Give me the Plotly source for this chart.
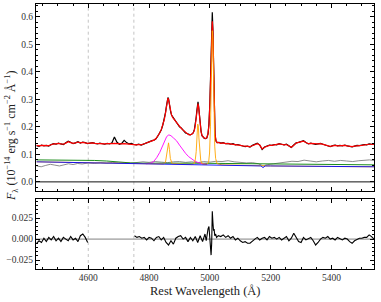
import plotly.graph_objects as go

# ---------------- observed spectrum & total model ----------------
wave_a = [4430, 4438, 4446, 4454, 4462, 4470, 4478, 4486, 4494, 4502, 4510,
          4518, 4526, 4534, 4542, 4550, 4558, 4566, 4574, 4582, 4590, 4598]
obs_a = [0.132, 0.129, 0.134, 0.131, 0.133, 0.130, 0.136, 0.139, 0.137, 0.141, 0.138,
         0.136, 0.142, 0.148, 0.144, 0.139, 0.142, 0.146, 0.141, 0.145, 0.143, 0.139]
mod_a = [0.133, 0.131, 0.133, 0.132, 0.133, 0.132, 0.135, 0.138, 0.138, 0.140, 0.138,
         0.137, 0.141, 0.146, 0.143, 0.140, 0.142, 0.145, 0.142, 0.144, 0.142, 0.140]

wave_b = [4606, 4614, 4622, 4630, 4638, 4646, 4654, 4662, 4670, 4678, 4686, 4694, 4702,
          4710, 4718, 4726, 4734, 4742, 4750, 4758, 4766, 4774, 4782, 4790, 4798]
obs_b = [0.141, 0.143, 0.140, 0.138, 0.141, 0.139, 0.137, 0.140, 0.138, 0.142, 0.163, 0.145, 0.137,
         0.140, 0.151, 0.143, 0.138, 0.140, 0.136, 0.135, 0.137, 0.134, 0.138, 0.142, 0.145]
mod_b = [0.141, 0.142, 0.140, 0.139, 0.140, 0.139, 0.138, 0.139, 0.138, 0.139, 0.140, 0.139, 0.137,
         0.138, 0.139, 0.138, 0.137, 0.138, 0.136, 0.135, 0.136, 0.135, 0.138, 0.141, 0.144]

wave_c = [4804, 4810, 4816, 4822, 4828, 4834, 4840, 4845, 4850, 4854, 4857, 4860, 4862, 4864,
          4866, 4868, 4871, 4874, 4878, 4882, 4886, 4890, 4895, 4900, 4905, 4910, 4915, 4920,
          4925, 4930, 4935, 4940, 4945, 4949, 4952, 4955, 4957, 4959, 4961, 4963, 4965, 4968,
          4971, 4974, 4978, 4982, 4986, 4990, 4994, 4997, 5000, 5002, 5004, 5006, 5008, 5010,
          5012, 5014, 5017, 5020, 5024, 5030]
obs_c = [0.147, 0.150, 0.152, 0.156, 0.165, 0.176, 0.189, 0.206, 0.228, 0.252, 0.275, 0.298, 0.307, 0.303,
         0.285, 0.270, 0.255, 0.243, 0.236, 0.228, 0.221, 0.215, 0.207, 0.200, 0.197, 0.190, 0.184, 0.178,
         0.176, 0.172, 0.171, 0.173, 0.178, 0.190, 0.208, 0.235, 0.258, 0.280, 0.291, 0.275, 0.245, 0.210,
         0.185, 0.168, 0.161, 0.158, 0.157, 0.160, 0.175, 0.212, 0.285, 0.370, 0.470, 0.570, 0.617, 0.555,
         0.405, 0.265, 0.172, 0.149, 0.143, 0.144]
mod_c = [0.146, 0.149, 0.152, 0.157, 0.165, 0.176, 0.190, 0.205, 0.226, 0.250, 0.276, 0.296, 0.305, 0.300,
         0.287, 0.270, 0.253, 0.243, 0.234, 0.228, 0.222, 0.214, 0.207, 0.201, 0.196, 0.190, 0.185, 0.179,
         0.175, 0.172, 0.171, 0.173, 0.178, 0.188, 0.205, 0.232, 0.255, 0.276, 0.285, 0.272, 0.245, 0.208,
         0.183, 0.169, 0.162, 0.159, 0.158, 0.160, 0.176, 0.207, 0.280, 0.372, 0.480, 0.565, 0.584, 0.545,
         0.395, 0.262, 0.175, 0.150, 0.143, 0.143]

wave_d = [5036, 5044, 5052, 5060, 5068, 5076, 5084, 5092,
          5100, 5108, 5116, 5124, 5132, 5140, 5148, 5156,
          5164, 5172, 5180, 5188, 5196, 5204, 5212, 5220,
          5228, 5236, 5244, 5252, 5260, 5268, 5276, 5284,
          5292, 5300, 5308, 5316, 5324, 5332, 5340, 5348,
          5356, 5364, 5372, 5380, 5388, 5396, 5404, 5412,
          5420, 5428, 5436, 5444, 5452, 5460, 5468, 5476,
          5484, 5492, 5500, 5508, 5516, 5524, 5532, 5540]
obs_d = [0.141, 0.143, 0.139, 0.140, 0.137, 0.139, 0.135, 0.136,
         0.133, 0.131, 0.128, 0.130, 0.127, 0.133, 0.136, 0.141,
         0.134, 0.118, 0.127, 0.131, 0.134, 0.133, 0.136, 0.135,
         0.139, 0.137, 0.135, 0.137, 0.131, 0.125, 0.134, 0.142,
         0.144, 0.147, 0.150, 0.143, 0.138, 0.141, 0.139, 0.136,
         0.138, 0.140, 0.137, 0.134, 0.131, 0.128, 0.132, 0.134,
         0.131, 0.133, 0.131, 0.134, 0.131, 0.128, 0.127, 0.130,
         0.133, 0.132, 0.134, 0.136, 0.135, 0.138, 0.137, 0.136]
mod_d = [0.140, 0.142, 0.139, 0.139, 0.138, 0.138, 0.135, 0.135,
         0.133, 0.131, 0.129, 0.129, 0.128, 0.132, 0.136, 0.139,
         0.134, 0.120, 0.126, 0.131, 0.133, 0.133, 0.135, 0.135,
         0.138, 0.137, 0.135, 0.136, 0.131, 0.126, 0.133, 0.141,
         0.144, 0.147, 0.148, 0.143, 0.139, 0.140, 0.139, 0.137,
         0.138, 0.139, 0.137, 0.134, 0.131, 0.129, 0.131, 0.133,
         0.131, 0.132, 0.131, 0.133, 0.131, 0.129, 0.128, 0.130,
         0.132, 0.132, 0.133, 0.135, 0.135, 0.137, 0.137, 0.136]

# ---------------- fit components ----------------
host_wave = [4430, 4445, 4460, 4475, 4490, 4505, 4520, 4535, 4550, 4565, 4580,
             4600, 4620, 4640, 4660, 4680, 4700, 4720, 4740, 4760, 4780, 4800, 4820, 4840,
             4860, 4880, 4900, 4920, 4940, 4960, 4980, 5000, 5020, 5040, 5060, 5080, 5100,
             5120, 5140, 5160, 5175, 5190,
             5210, 5230, 5250, 5270, 5290, 5310, 5330, 5350, 5370, 5390, 5410, 5430, 5450,
             5470, 5490, 5510, 5525, 5540]
host_flux = [0.058, 0.055, 0.060, 0.064, 0.061, 0.058, 0.062, 0.066, 0.063, 0.067, 0.065,
             0.069, 0.067, 0.070, 0.068, 0.071, 0.069, 0.070, 0.068, 0.071, 0.073, 0.071, 0.074, 0.072,
             0.070, 0.073, 0.074, 0.071, 0.073, 0.070, 0.074, 0.072, 0.075, 0.074, 0.077, 0.073, 0.071,
             0.069, 0.070, 0.066, 0.058, 0.063,
             0.066, 0.069, 0.072, 0.075, 0.074, 0.079, 0.076, 0.073, 0.076, 0.078, 0.075, 0.078, 0.076,
             0.074, 0.077, 0.079, 0.080, 0.078]

feii_wave = [4430, 4500, 4580, 4620, 4660, 4700, 4740, 4780, 4850, 4950, 5050, 5150,
             5250, 5350, 5450, 5540]
feii_flux = [0.080, 0.080, 0.079, 0.078, 0.076, 0.072, 0.069, 0.068, 0.067, 0.068, 0.067, 0.066,
             0.065, 0.064, 0.063, 0.062]

pl_wave = [4430, 4600, 4800, 5000, 5150, 5168, 5175, 5182, 5200, 5400, 5540]
pl_flux = [0.073, 0.070, 0.066, 0.062, 0.059, 0.058, 0.052, 0.058, 0.058, 0.056, 0.055]

broad_wave = [4790, 4805, 4815, 4825, 4835, 4845, 4852, 4858, 4865, 4872, 4880, 4890, 4900,
              4910, 4920, 4930, 4940, 4950, 4960, 4975, 4990]
broad_flux = [0.066, 0.068, 0.074, 0.088, 0.107, 0.134, 0.152, 0.165, 0.171, 0.168, 0.160, 0.150, 0.134,
              0.118, 0.104, 0.092, 0.083, 0.076, 0.071, 0.066, 0.064]

narrow_wave = [4430, 4600, 4800,
               4848, 4854, 4858, 4861, 4864, 4867, 4870, 4876,
               4940, 4948, 4952, 4955, 4958, 4960, 4962, 4964, 4967, 4970, 4975,
               4990, 4996, 4999, 5002, 5004, 5006, 5008, 5010, 5012, 5014, 5016, 5019, 5024,
               5040, 5200, 5400, 5540]
narrow_flux = [0.073, 0.070, 0.066,
               0.065, 0.072, 0.100, 0.132, 0.142, 0.118, 0.085, 0.066,
               0.063, 0.066, 0.080, 0.110, 0.170, 0.210, 0.205, 0.160, 0.105, 0.078, 0.065,
               0.063, 0.072, 0.105, 0.200, 0.330, 0.470, 0.550, 0.520, 0.380, 0.220, 0.130, 0.085, 0.066,
               0.062, 0.058, 0.056, 0.055]

# ---------------- residuals ----------------
res_wave_1 = [4430, 4438, 4446, 4454, 4462, 4470, 4478, 4486, 4494, 4502, 4510,
              4518, 4526, 4534, 4542, 4550, 4558, 4566, 4574, 4582, 4590, 4598]
res_1 = [-0.005, -0.002, -0.004, 0.001, -0.003, 0.002, -0.001, 0.003, -0.002, 0.001, -0.003,
         0.002, 0.000, -0.002, 0.003, -0.001, 0.001, -0.003, 0.004, 0.006, 0.002, -0.004]
res_wave_2 = [4752, 4760, 4768, 4776, 4784, 4792, 4800, 4808, 4816, 4824,
              4832, 4840, 4848, 4856, 4864, 4872, 4880, 4888, 4896, 4904,
              4912, 4920, 4928, 4936, 4944, 4952, 4960, 4968, 4976, 4984,
              4988, 4991, 4994, 4997, 5000, 5002, 5004, 5006, 5008, 5010, 5012, 5014, 5016, 5019, 5022,
              5028, 5036, 5044, 5052, 5060, 5068, 5076, 5084,
              5092, 5100, 5108, 5116, 5124, 5132, 5140, 5148,
              5156, 5164, 5172, 5180, 5188, 5196, 5204, 5212,
              5220, 5228, 5236, 5244, 5252, 5260, 5268, 5276,
              5284, 5292, 5300, 5308, 5316, 5324, 5332, 5340,
              5348, 5356, 5364, 5372, 5380, 5388, 5396, 5404,
              5412, 5420, 5428, 5436, 5444, 5452, 5460, 5468,
              5476, 5484, 5492, 5500, 5508, 5516, 5524, 5532,
              5540]
res_2 = [0.004, 0.002, 0.003, 0.001, 0.002, -0.001, 0.002, 0.001, -0.002, 0.002,
         0.003, -0.001, 0.002, -0.004, -0.007, -0.002, -0.006, 0.001, 0.003, 0.004,
         0.000, 0.002, -0.003, 0.002, -0.002, 0.003, -0.004, 0.004, -0.003, 0.006,
         -0.002, 0.008, 0.012, 0.015, 0.004, -0.012, -0.019, -0.005, 0.033, 0.020, 0.010, 0.012, 0.004, 0.006, 0.002,
         0.004, 0.003, 0.005, 0.002, 0.004, 0.001, 0.003, -0.001,
         0.001, -0.002, -0.004, -0.003, -0.005, -0.005, -0.002, 0.000,
         0.002, -0.001, 0.001, 0.002, -0.001, 0.003, 0.001, 0.002,
         0.000, 0.002, -0.001, 0.001, 0.003, -0.002, 0.001, 0.007,
         0.002, -0.003, -0.004, 0.002, -0.001, 0.001, 0.002, -0.002,
         -0.007, -0.004, 0.000, 0.002, 0.001, 0.003, 0.000, 0.001,
         -0.001, 0.002, 0.000, -0.001, 0.001, 0.000, -0.003, -0.005,
         -0.002, 0.000, 0.001, 0.001, 0.002, 0.002, 0.005, 0.003,
         0.000]

mask_edges = [4600, 4750]
x_range = [4428, 5540]
x_ticks = [4600, 4800, 5000, 5200, 5400]

wave = wave_a + wave_b + wave_c + wave_d
obs = obs_a + obs_b + obs_c + obs_d
model = mod_a + mod_b + mod_c + mod_d
res_wave = res_wave_1 + [None] + res_wave_2
res = res_1 + [None] + res_2

FONT = "Liberation Serif"
fig = go.Figure()

def line(x, y, color, width, xa="x", ya="y"):
    fig.add_trace(go.Scatter(x=x, y=y, mode="lines", line=dict(color=color, width=width),
                             xaxis=xa, yaxis=ya, showlegend=False, hoverinfo="skip",
                             connectgaps=False))

line(wave, obs, "black", 1.2)
line(wave, model, "red", 1.2)
line(host_wave, host_flux, "gray", 0.9)
line(feii_wave, feii_flux, "green", 0.9)
line(broad_wave, broad_flux, "magenta", 0.9)
line(narrow_wave, narrow_flux, "orange", 0.9)
line(pl_wave, pl_flux, "blue", 0.9)
line(res_wave, res, "black", 1.1, "x2", "y2")

# zero lines
fig.add_shape(type="line", xref="x domain", yref="y", x0=0, x1=1, y0=0, y1=0,
              line=dict(color="#111", width=1))
fig.add_shape(type="line", xref="x2 domain", yref="y2", x0=0, x1=1, y0=0, y1=0,
              line=dict(color="gray", width=1), layer="below")
for e in mask_edges:
    for xr, yr in (("x", "y domain"), ("x2", "y2 domain")):
        fig.add_shape(type="line", xref=xr, yref=yr, x0=e, x1=e, y0=0, y1=1,
                      line=dict(color="#aaa", width=0.7, dash="dot"), layer="below")

tickfont = dict(family=FONT, size=9.5, color="#333")
axis_common = dict(ticks="inside", ticklen=4, tickwidth=0.8, tickcolor="black",
                   mirror="allticks", showline=True, linecolor="black", linewidth=1,
                   showgrid=False, zeroline=False, tickfont=tickfont, automargin=False)
xcommon = dict(axis_common, range=x_range, tickmode="array", tickvals=x_ticks,
               minor=dict(dtick=50, tick0=4600, ticks="inside", ticklen=2, tickcolor="black",
                          showgrid=False))

fig.update_layout(
    width=381, height=302,
    margin=dict(l=36, r=7, t=4, b=33, autoexpand=False),
    paper_bgcolor="white", plot_bgcolor="white",
    xaxis=dict(xcommon, domain=[0, 1], anchor="y", showticklabels=False),
    yaxis=dict(axis_common, domain=[0.2955, 1], anchor="x", range=[-0.032, 0.647],
               tick0=0, dtick=0.1, tickformat=".1f",
               minor=dict(dtick=0.02, tick0=0, ticks="inside", ticklen=2, tickcolor="black",
                          showgrid=False)),
    xaxis2=dict(xcommon, domain=[0, 1], anchor="y2", showticklabels=True),
    yaxis2=dict(axis_common, domain=[0, 0.264], anchor="x2", range=[-0.0355, 0.0475],
                tick0=0, dtick=0.025, tickformat=".3f",
                minor=dict(dtick=0.005, tick0=0, ticks="inside", ticklen=2, tickcolor="black",
                           showgrid=False)),
    annotations=[
        dict(text="<i>F</i><sub>λ</sub> (10<sup>−14</sup> erg s<sup>−1</sup> cm<sup>−2</sup> Å<sup>−1</sup>)",
             xref="paper", yref="paper", x=-0.071, y=0.502, textangle=-90,
             showarrow=False, xanchor="center", yanchor="middle",
             font=dict(family=FONT, size=12, color="#222")),
        dict(text="Rest Wavelengeth (Å)", xref="paper", yref="paper", x=0.5, y=-0.083,
             showarrow=False, xanchor="center", yanchor="middle",
             font=dict(family=FONT, size=12.5, color="#222")),
    ],
)

fig.write_html("out.html", config={"displayModeBar": False},
               post_script="document.body.style.margin='0';document.body.style.padding='0';")
